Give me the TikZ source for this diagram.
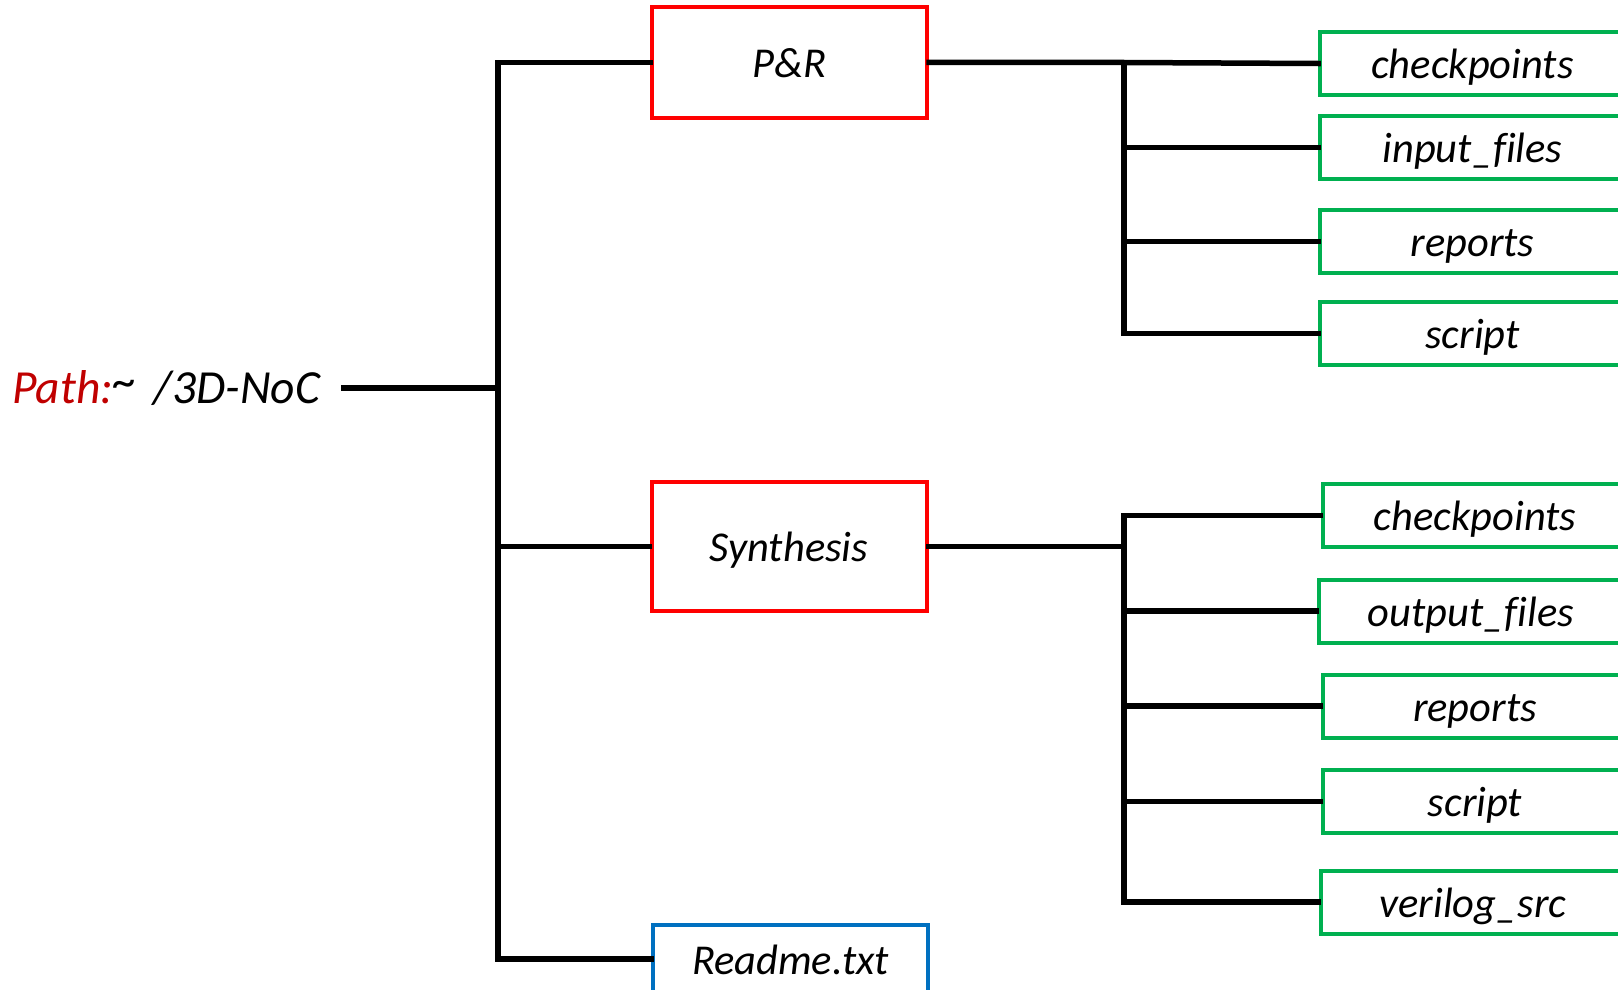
\documentclass[tikz,border=0pt]{standalone}
\usepackage{fontspec}
\setmainfont{Carlito}[Ligatures=NoCommon]
\definecolor{boxred}{HTML}{FF0000}
\definecolor{boxgreen}{HTML}{00B050}
\definecolor{boxblue}{HTML}{0070C0}
\definecolor{pathred}{HTML}{C00000}
\begin{document}
\begin{tikzpicture}[x=1pt,y=-1pt,
  box/.style={draw, line width=4pt, inner sep=0pt, fill=white,
    font=\fontsize{42.5}{50}\selectfont\itshape, text height=36pt, text depth=5.5pt},
  redbox/.style={box, draw=boxred, minimum width=275pt},
  greenbox/.style={box, draw=boxgreen, minimum width=305pt, minimum height=63pt},
  bluebox/.style={box, draw=boxblue, minimum width=275pt, minimum height=68pt},
  conn/.style={line width=5.5pt, line join=miter, line cap=rect}]
\useasboundingbox (0,0) rectangle (1618,990);
\begin{scope}
\clip (0,0) rectangle (1618,990);
% path label
\node[anchor=base west, inner sep=0pt, font=\fontsize{47.5}{55}\selectfont\itshape] (path) at (12,403)
  {\textcolor{pathred}{Path:}\raisebox{6pt}{\~{}}\hspace{6pt} /3D-NoC};
\coordinate (pathend) at (344,388);
\coordinate (mtop) at (498,62.5);
\coordinate (pbus) at (1124,62.5);
\coordinate (sbus) at (1124,515.5);

% main boxes
\node[redbox, minimum height=111pt] (PR) at (789.5,62.5) {P\&R};
\node[redbox, minimum height=129pt] (SY) at (789,546.5) {Synthesis};
\node[bluebox] (RD) at (790.5,959) {Readme.txt};

% P&R children
\node[greenbox] (c1) at (1472.5,63.5) {checkpoints};
\node[greenbox] (i1) at (1472.5,147.5) {input\_files};
\node[greenbox] (r1) at (1472.5,241.5) {reports};
\node[greenbox] (s1) at (1472.5,333.5) {script};

% Synthesis children
\node[greenbox] (c2) at (1475,515.5) {checkpoints};
\node[greenbox] (o2) at (1471,611) {output\_files};
\node[greenbox] (r2) at (1475,706) {reports};
\node[greenbox] (s2) at (1475,801.5) {script};
\node[greenbox] (v2) at (1473,902) {verilog\_src};

% main bus
\draw[conn] (PR.west) -- (mtop) |- (RD.west);
\draw[conn] (pathend) -- (pathend -| mtop);
\draw[conn] (SY.west) -- (SY.west -| mtop);

% P&R bus
\draw[conn] (PR.east) -- (pbus) -- (c1.west);
\draw[conn] (pbus) |- (s1.west);
\draw[conn] (i1.west) -- (i1.west -| pbus);
\draw[conn] (r1.west) -- (r1.west -| pbus);

% Synthesis bus
\draw[conn] (sbus) -- (c2.west);
\draw[conn] (sbus) |- (v2.west);
\draw[conn] (SY.east) -- (SY.east -| sbus);
\draw[conn] (o2.west) -- (o2.west -| sbus);
\draw[conn] (r2.west) -- (r2.west -| sbus);
\draw[conn] (s2.west) -- (s2.west -| sbus);
\end{scope}
\end{tikzpicture}
\end{document}
